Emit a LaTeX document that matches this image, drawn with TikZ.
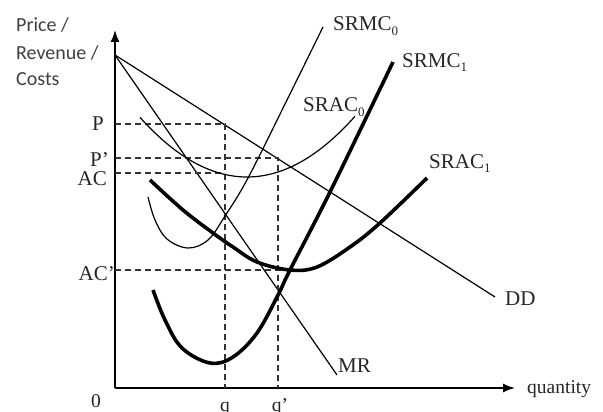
\documentclass[tikz,border=0pt]{standalone}
\usepackage{fontspec}
\setmainfont{Liberation Serif}
\newfontfamily\sansf{Carlito}
\usetikzlibrary{arrows.meta}
\begin{document}
\begin{tikzpicture}[x=1pt,y=-1pt,
  lbl/.style={font=\fontsize{21}{24}\selectfont, inner sep=0pt, text=black!85},
  qlbl/.style={font=\fontsize{19.5}{22}\selectfont, inner sep=0pt, text=black!85},
  slbl/.style={font=\sansf\fontsize{20}{22}\selectfont, inner sep=0pt, text=black!75},
  thincurve/.style={line width=1.2pt},
  thickcurve/.style={line width=3.6pt},
  guide/.style={dash pattern=on 6pt off 4pt, line width=1.1pt, black!80},
  axis/.style={line width=1.5pt, -{Latex[length=12pt,width=9pt]}},
]
\newcommand{\sbs}[1]{\raisebox{-4.5pt}{\fontsize{13}{13}\selectfont #1}}
\useasboundingbox (0,0) rectangle (603,412);

% axes
\coordinate (O) at (115,388);
\coordinate (ytop) at (115,30);
\coordinate (xend) at (515,388);
\draw[axis] (O) -- (ytop);
\draw[axis] (O) -- (xend);

% demand and marginal revenue
\coordinate (D0) at (115,55);
\coordinate (Dend) at (495,297);
\coordinate (MRend) at (337,375);
\draw[thincurve] (D0) -- (Dend);
\draw[thincurve] (D0) -- (MRend);

% guide lines
\coordinate (Py) at (115,124);
\coordinate (Pq) at (225,124);
\coordinate (qb) at (225,388);
\coordinate (P2y) at (115,158);
\coordinate (P2q) at (278,158);
\coordinate (q2b) at (278,388);
\coordinate (ACy) at (115,173);
\coordinate (ACq) at (225,173);
\coordinate (AC2y) at (115,270);
\coordinate (AC2q) at (290,270);
\draw[guide] (Py) -- (Pq) -- (qb);
\draw[guide] (P2y) -- (P2q) -- (q2b);
\draw[guide] (ACy) -- (ACq);
\draw[guide] (AC2y) -- (AC2q);

% SRAC0
\draw[thincurve] plot[domain=140:355, samples=60] (\x, {177-0.0052*(\x-247)^2});
% SRMC0
\draw[thincurve] plot[smooth, tension=0.6] coordinates {(148,197) (155,220) (167,239) (188,248) (208,240) (225,216) (248,178) (287,100) (323,27)};
% SRMC1
\draw[thickcurve] plot[smooth, tension=0.6] coordinates {(153,290) (165,320) (182,348) (210,363) (233,357) (257,333) (278,295) (290,270) (330,192) (393,62)};
% SRAC1
\draw[thickcurve] plot[smooth, tension=0.6] coordinates {(150,180) (183,210) (213,233) (233,247) (257,262) (290,270) (317,267) (350,247) (380,223) (427,178)};

% labels
\node[slbl, anchor=base west] (l1) at (16,32) {Price /};
\node[slbl, anchor=base west] (l2) at (16,60) {Revenue /};
\node[slbl, anchor=base west] (l3) at (16,86) {Costs};
\node[lbl, anchor=base east] (lP) at (104,130) {P};
\node[lbl, anchor=base east] (lP2) at (109,166) {P’};
\node[lbl, anchor=base east] (lAC) at (107,185) {AC};
\node[lbl, anchor=base east] (lAC2) at (115,280) {AC’};
\node[qlbl, anchor=base] (l0) at (96,407) {0};
\node[qlbl, anchor=base] (lq) at (225,411) {q};
\node[qlbl, anchor=base] (lq2) at (280,411) {q’};
\node[qlbl, anchor=base west] (lquant) at (527,393) {quantity};
\node[lbl, anchor=base west] (lSRMC0) at (333,31) {SRMC\sbs{0}};
\node[lbl, anchor=base west] (lSRMC1) at (402,67) {SRMC\sbs{1}};
\node[lbl, anchor=base west] (lSRAC0) at (303,112) {SRAC\sbs{0}};
\node[lbl, anchor=base west] (lSRAC1) at (429,168) {SRAC\sbs{1}};
\node[lbl, anchor=base west] (lDD) at (505,305) {DD};
\node[lbl, anchor=base west] (lMR) at (338,372) {MR};
\end{tikzpicture}
\end{document}
